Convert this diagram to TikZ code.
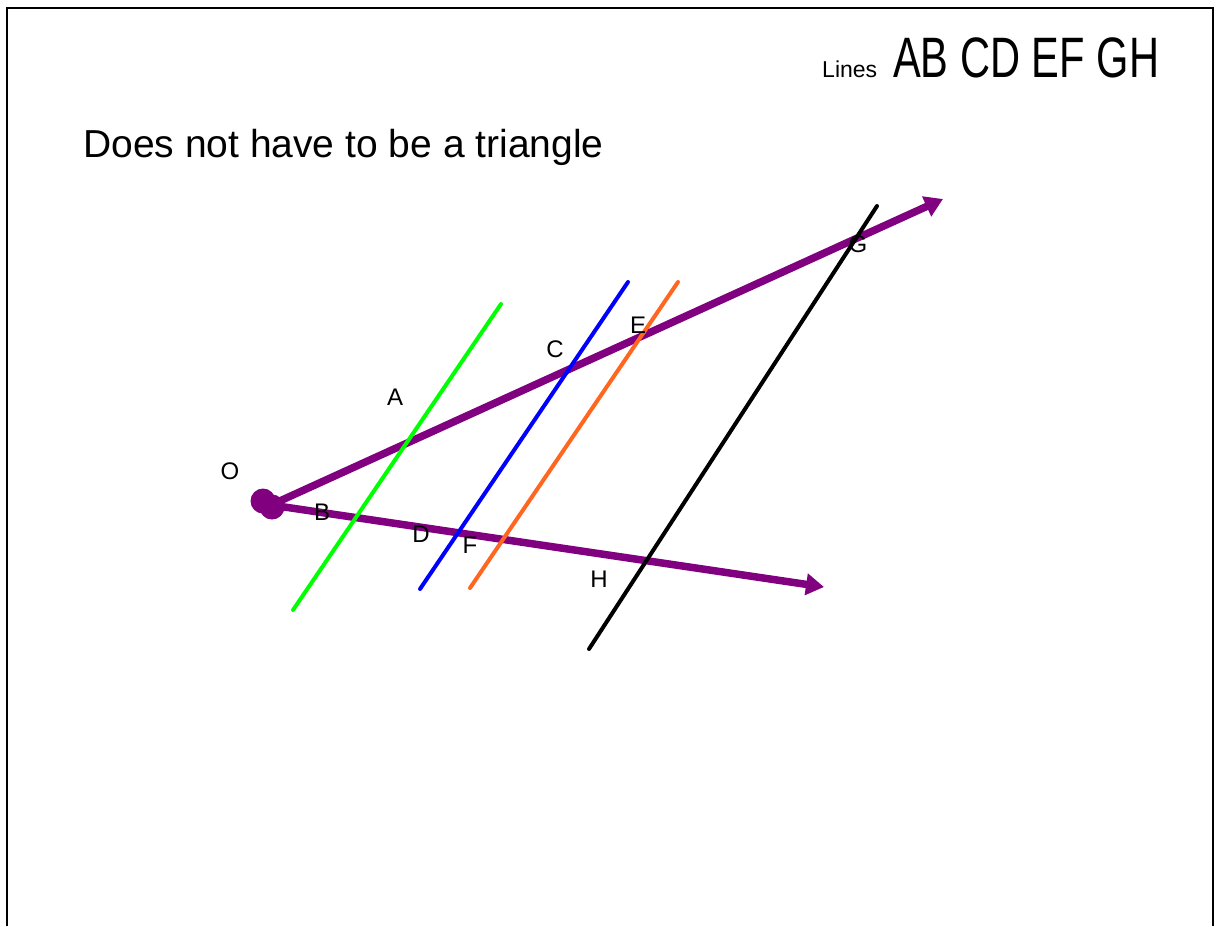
\documentclass[tikz,border=0pt]{standalone}
\usepackage{fontspec}
\setmainfont{Liberation Sans}
\usetikzlibrary{arrows.meta}

\definecolor{raypurple}{RGB}{128,0,128}
\definecolor{lineorange}{RGB}{255,102,32}

\tikzset{
  ray/.style={draw=raypurple,line width=7.5pt,-{Triangle[length=18pt,width=21pt]}},
  cutline/.style={line width=4pt,line cap=round},
  ptlabel/.style={inner sep=0pt,font=\fontsize{24}{27}\selectfont}
}

\begin{document}
\begin{tikzpicture}[x=1pt,y=-1pt]
      \useasboundingbox (0,0) rectangle (1217,926);

      % Frame
      \draw[line width=2.5pt] (7,926) -- (7,8) -- (1213,8) -- (1213,926);

      % Titles
      \node[anchor=base west,inner sep=0pt,font=\fontsize{23}{26}\selectfont] (lines) at (822,77) {Lines};
      \node[anchor=base west,inner sep=0pt,font=\fontsize{57}{60}\selectfont] (linenames) at (893,77) {\scalebox{0.73}[1]{AB CD EF GH}};
      \node[anchor=base west,inner sep=0pt,font=\fontsize{39}{44}\selectfont] (title) at (83,157) {Does not have to be a triangle};

      % Vertex O
      \fill[raypurple] (263,501) circle (12.5);
      \fill[raypurple] (272,507) circle (12.5);
      \coordinate (O) at (271,505);
      \coordinate (upend) at (943,199);
      \coordinate (lowend) at (824,587);

      % Rays
      \draw[ray] (O) -- (upend);
      \draw[ray] (O) -- (lowend);

      % Cutting lines
      \coordinate (ab1) at (293,610);
      \coordinate (ab2) at (501,304);
      \coordinate (cd1) at (420,589);
      \coordinate (cd2) at (628,282);
      \coordinate (ef1) at (470,588);
      \coordinate (ef2) at (678,282);
      \coordinate (gh1) at (589,649);
      \coordinate (gh2) at (877,206);
      \draw[cutline,green] (ab1) -- (ab2);
      \draw[cutline,blue] (cd1) -- (cd2);
      \draw[cutline,lineorange] (ef1) -- (ef2);
      \draw[cutline,black] (gh1) -- (gh2);

      % Point labels
      \node[ptlabel] (labO) at (230,471) {O};
      \node[ptlabel] (labA) at (395,397) {A};
      \node[ptlabel] (labB) at (322,512) {B};
      \node[ptlabel] (labC) at (555,349) {C};
      \node[ptlabel] (labD) at (421,534) {D};
      \node[ptlabel] (labE) at (638,325) {E};
      \node[ptlabel] (labF) at (470,545) {F};
      \node[ptlabel] (labG) at (858,244) {G};
      \node[ptlabel] (labH) at (599,579) {H};

\end{tikzpicture}
\end{document}
